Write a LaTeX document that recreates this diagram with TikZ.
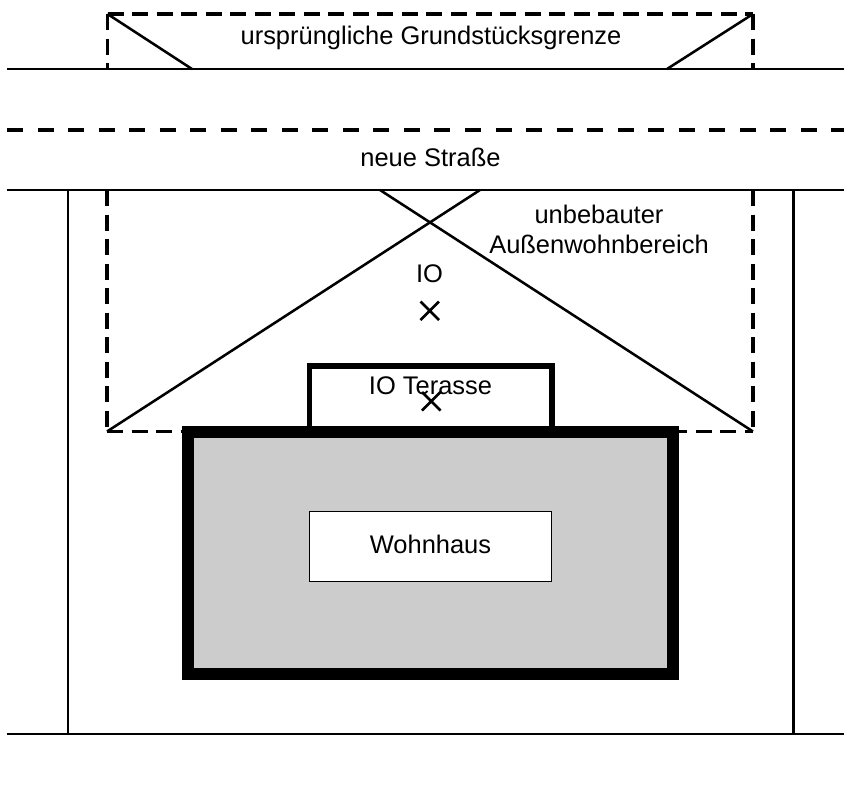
\documentclass[tikz,border=0pt]{standalone}
\usepackage{fontspec}
\setmainfont{Liberation Sans}
\tikzset{
  x=0.75pt,y=-0.75pt,
  lbl/.style={anchor=base,inner sep=0pt,outer sep=0pt,font=\fontsize{19.1pt}{23pt}\selectfont,text=black},
  thin solid/.style={draw=black,line width=1.9pt},
  roaddash/.style={draw=black,line width=3pt,dash pattern=on 12pt off 10.9pt},
  plotdash/.style={draw=black,line width=2.7pt,dash pattern=on 12pt off 6.4pt},
  areadash/.style={draw=black,line width=2.4pt,dash pattern=on 12pt off 6.4pt},
  housewall/.style={draw=black,line width=9pt,fill=houseg,miter limit=10},
  terrace/.style={draw=black,line width=4.2pt,fill=white},
  innerbox/.style={draw=black,line width=0.8pt,fill=white},
  crossmark/.style={draw=black,line width=2pt},
}
\definecolor{houseg}{HTML}{CCCCCC}
\begin{document}
\begin{tikzpicture}
\useasboundingbox (0,0) rectangle (844,790);
% named corners
\coordinate (roadTopL) at (7,69);      \coordinate (roadTopR) at (844,69);
\coordinate (roadMidL) at (7,130);     \coordinate (roadMidR) at (844,130);
\coordinate (roadLowL) at (7,190);     \coordinate (roadLowR) at (844,190);
\coordinate (baseL) at (7,734);        \coordinate (baseR) at (844,734);
\coordinate (plotTL) at (107.5,14);    \coordinate (plotTR) at (753,14);
\coordinate (plotBL) at (107.5,69);    \coordinate (plotBR) at (753,69);
\coordinate (sightA) at (192,69);      \coordinate (sightB) at (667,69);
\coordinate (areaTL) at (107,190);     \coordinate (areaTR) at (753,190);
\coordinate (areaBL) at (107,431.5);   \coordinate (areaBR) at (753,431.5);
\coordinate (sightC) at (480,190);     \coordinate (sightD) at (380,190);
\coordinate (sideLt) at (68,190);      \coordinate (sideLb) at (68,734);
\coordinate (sideRt) at (793.5,190);   \coordinate (sideRb) at (793.5,734);

% top plot boundary
\draw[plotdash] (plotTL) -- (plotBL);
\draw[plotdash] (plotTR) -- (plotBR);
\draw[plotdash] (plotTL) -- (plotTR);
\draw[thin solid] (plotTL) -- (sightA);
\draw[thin solid] (plotTR) -- (sightB);
\draw[thin solid] (roadTopL) -- (roadTopR);
% road
\draw[roaddash] (roadMidL) -- (roadMidR);
\draw[thin solid] (roadLowL) -- (roadLowR);
\draw[thin solid] (baseL) -- (baseR);
\draw[thin solid] (sideLt) -- (sideLb);
\draw[thin solid] (sideRt) -- (sideRb);
% outdoor area
\draw[areadash] (areaTL) -- (areaBL);
\draw[areadash] (areaTR) -- (areaBR);
\draw[areadash] (areaBL) -- (areaBR);
\draw[thin solid] (areaBL) -- (sightC);
\draw[thin solid] (areaBR) -- (sightD);
% terrace and house
\draw[terrace] (309.4,432) rectangle (552,365.7);
\draw[housewall] (188.3,432) rectangle (672.8,674);
\node[innerbox,minimum width=181.8pt,minimum height=52.5pt,inner sep=0pt] (wohnbox) at (430.5,546.7) {};
% crosses
\draw[crossmark] (420.5,301.5) -- (439,320) (420.5,320) -- (439,301.5);
\draw[crossmark] (422,392) -- (440.5,410.5) (422,410.5) -- (440.5,392);
% labels
\node[lbl] (grenze) at (431,44.5) {ursprüngliche Grundstücksgrenze};
\node[lbl] (strasse) at (430.5,166.5) {neue Straße};
\node[lbl] (unbeb) at (599,223) {unbebauter};
\node[lbl] (aussen) at (599,253) {Außenwohnbereich};
\node[lbl] (io) at (429.5,282.5) {IO};
\node[lbl] (terr) at (430.5,394) {IO Terasse};
\node[lbl] (wohn) at (430.5,553.5) {Wohnhaus};
\end{tikzpicture}
\end{document}
